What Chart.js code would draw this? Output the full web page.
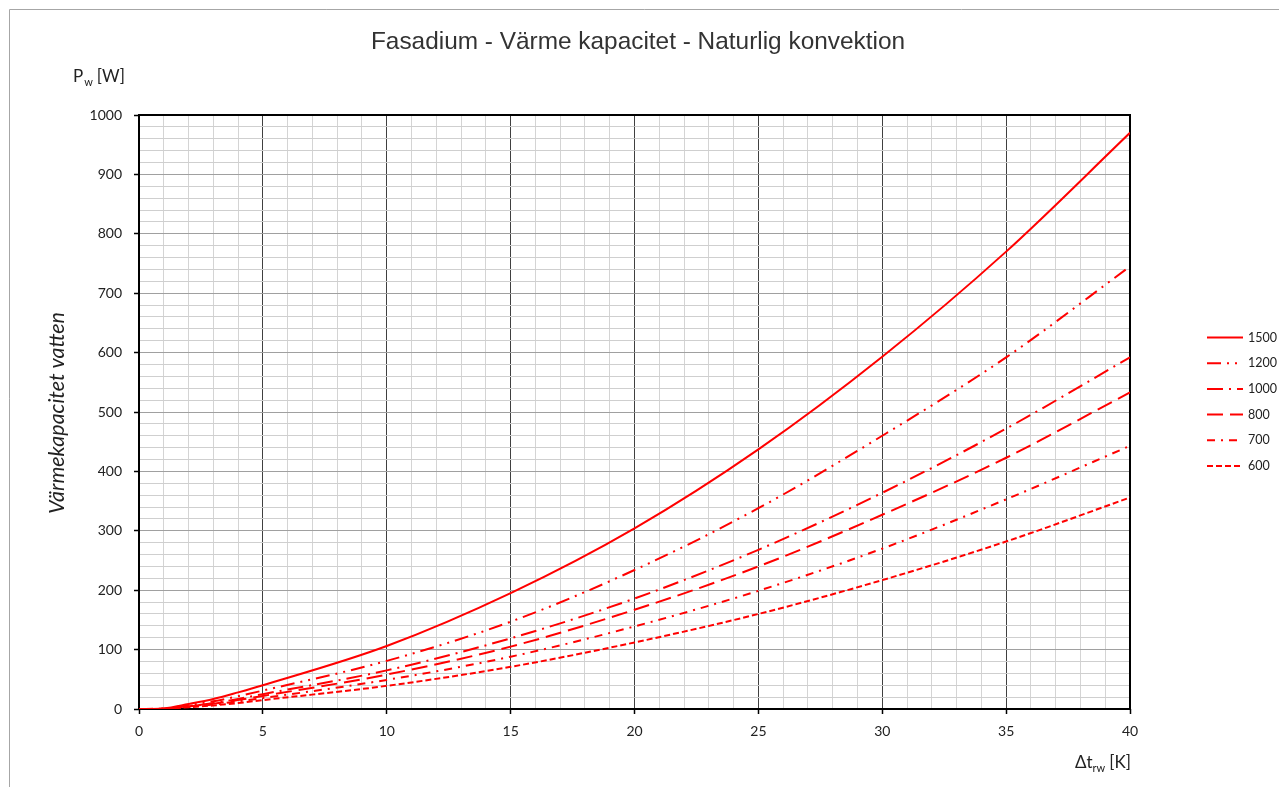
<!DOCTYPE html>
<html lang="sv">
<head>
<meta charset="utf-8">
<title>Fasadium - Värme kapacitet - Naturlig konvektion</title>
<script src="https://cdn.jsdelivr.net/npm/chart.js@4.4.1/dist/chart.umd.min.js"></script>
<style>
  html, body { margin: 0; padding: 0; background: #fff; }
  #wrap { position: relative; width: 1279px; height: 787px; }
</style>
</head>
<body>
<div id="wrap"><canvas id="grafica" width="1279" height="787"></canvas></div>
<script>
// Datos: Δt (K) y potencia (W) por modelo
const deltaT = [0, 1, 2, 3, 4, 5, 10, 15, 20, 25, 30, 35, 40];
const p1500 = [0, 1, 8.4, 16.8, 28, 40, 106, 195, 304, 437, 593, 770, 970];
const p1200 = [0, 0.8, 6.5, 13, 21.5, 31, 81, 147, 234, 338, 460, 592, 745];
const p1000 = [0, 0.6, 5, 10, 17, 25, 65, 119, 186, 268, 364, 472, 592];
const p800 = [0, 0.5, 4.5, 9, 15, 22, 58, 105, 167, 240, 327, 423, 533];
const p700 = [0, 0.5, 4, 7.5, 13, 18.5, 49, 88, 139, 199, 270, 353, 443];
const p600 = [0, 0.4, 3, 6, 10, 15, 39, 71, 112, 160, 217, 282, 356];

const seriesLabels = ["1500", "1200", "1000", "800", "700", "600"];
const xMajorTicks = [0, 5, 10, 15, 20, 25, 30, 35, 40];
const yMajorTicks = [0, 100, 200, 300, 400, 500, 600, 700, 800, 900, 1000];

// Estilos de línea (tipo Excel) por serie
const series = [p1500, p1200, p1000, p800, p700, p600];
const dashes = [[], [14, 6, 2, 6, 2, 6], [16, 6, 2, 6], [16, 7], [8, 6, 2, 6], [6, 3]];

const fontTicks = "Lato, 'Open Sans', sans-serif";

// Plugin para fondo, marco, títulos y leyenda
const decoraciones = {
  id: "decoraciones",
  beforeDraw(chart) {
    const ctx = chart.ctx;
    ctx.save();
    ctx.fillStyle = "#fff";
    ctx.fillRect(0, 0, chart.width, chart.height);
    // Marco exterior del gráfico
    ctx.strokeStyle = "#a6a6a6";
    ctx.lineWidth = 1;
    ctx.beginPath();
    ctx.moveTo(9.5, chart.height);
    ctx.lineTo(9.5, 9.5);
    ctx.lineTo(chart.width, 9.5);
    ctx.stroke();
    ctx.restore();
  },
  beforeDatasetsDraw(chart) {
    const { ctx, chartArea } = chart;
    ctx.save();
    ctx.strokeStyle = "#000";
    ctx.lineWidth = 2;
    ctx.strokeRect(chartArea.left, chartArea.top, chartArea.right - chartArea.left, chartArea.bottom - chartArea.top);
    ctx.restore();
  },
  afterDraw(chart) {
    const ctx = chart.ctx;
    ctx.save();
    ctx.fillStyle = "#333";
    ctx.textBaseline = "middle";
    ctx.textAlign = "center";
    ctx.font = "24.4px 'Liberation Sans', Arial, sans-serif";
    ctx.fillText("Fasadium - Värme kapacitet - Naturlig konvektion", 638, 42);

    // Etiqueta eje Y: P_w [W]
    ctx.fillStyle = "#222";
    ctx.textAlign = "left";
    ctx.textBaseline = "alphabetic";
    let x = 73;
    ctx.font = "17px " + fontTicks;
    ctx.fillText("P", x, 82);
    x += ctx.measureText("P").width + 1;
    ctx.font = "11px " + fontTicks;
    ctx.fillText("w", x, 86);
    x += ctx.measureText("w").width + 4;
    ctx.font = "17px " + fontTicks;
    ctx.fillText("[W]", x, 82);

    // Etiqueta eje X: Δt_rw [K]
    x = 1075;
    ctx.fillText("Δt", x, 768);
    x += ctx.measureText("Δt").width;
    ctx.font = "11px " + fontTicks;
    ctx.fillText("rw", x, 772);
    x += ctx.measureText("rw").width + 4;
    ctx.font = "17px " + fontTicks;
    ctx.fillText("[K]", x, 768);

    // Título vertical
    ctx.save();
    ctx.translate(57, 514);
    ctx.rotate(-Math.PI / 2);
    ctx.font = "italic 21.5px " + fontTicks;
    ctx.textBaseline = "middle";
    ctx.fillText("Värmekapacitet vatten", 0, 0);
    ctx.restore();

    // Leyenda
    chart.data.datasets.forEach((ds, i) => {
      const y = 337.5 + i * 25.7;
      ctx.save();
      ctx.strokeStyle = ds.borderColor;
      ctx.lineWidth = 2;
      ctx.setLineDash(ds.borderDash);
      ctx.beginPath();
      ctx.moveTo(1207, y);
      ctx.lineTo(1243, y);
      ctx.stroke();
      ctx.restore();
      ctx.fillStyle = "#222";
      ctx.font = "12.5px " + fontTicks;
      ctx.textBaseline = "middle";
      ctx.fillText(ds.label, 1248, y);
    });
    ctx.restore();
  },
};

function graficaFasadium() {
  const ctx = document.getElementById("grafica");
  new Chart(ctx, {
    type: "line",
    data: {
      datasets: series.map((vals, i) => ({
        label: seriesLabels[i],
        data: deltaT.map((t, j) => ({ x: t, y: vals[j] })),
        borderColor: "#ff0000",
        borderWidth: 2,
        borderDash: dashes[i],
        pointRadius: 0,
        fill: false,
        cubicInterpolationMode: "monotone",
      })),
    },
    options: {
      responsive: false,
      animation: false,
      layout: { padding: { left: 0, top: 115, right: 149, bottom: 0 } },
      plugins: {
        legend: { display: false },
        title: { display: false },
        tooltip: { enabled: false },
      },
      scales: {
        x: {
          type: "linear",
          min: 0,
          max: 40,
          afterFit: (s) => { s.height = 78; },
          border: { display: false },
          ticks: {
            stepSize: 1,
            autoSkip: false,
            maxRotation: 0,
            padding: 9,
            color: "#222",
            font: { family: fontTicks, size: 14 },
            callback: (v) => (xMajorTicks.includes(v) ? String(v) : ""),
          },
          grid: {
            lineWidth: 1,
            tickLength: 5,
            color: (c) => (c.tick && c.tick.value % 5 === 0 ? "#404040" : "#d4d4d4"),
            tickColor: (c) => (c.tick && c.tick.value % 5 === 0 ? "#000" : "rgba(0,0,0,0)"),
            tickWidth: 1.5,
          },
        },
        y: {
          min: 0,
          max: 1000,
          afterFit: (s) => { s.width = 139; },
          border: { display: false },
          ticks: {
            stepSize: 20,
            autoSkip: false,
            padding: 12,
            color: "#222",
            font: { family: fontTicks, size: 14 },
            callback: (v) => (yMajorTicks.includes(v) ? String(v) : ""),
          },
          grid: {
            lineWidth: 1,
            tickLength: 5,
            color: (c) => (c.tick && c.tick.value % 100 === 0 ? "#a0a0a0" : "#cfcfcf"),
            tickColor: (c) => (c.tick && c.tick.value % 100 === 0 ? "#000" : "rgba(0,0,0,0)"),
            tickWidth: 1.5,
          },
        },
      },
    },
    plugins: [decoraciones],
  });
}

document.addEventListener("DOMContentLoaded", () => {
  graficaFasadium();
});
</script>
</body>
</html>
